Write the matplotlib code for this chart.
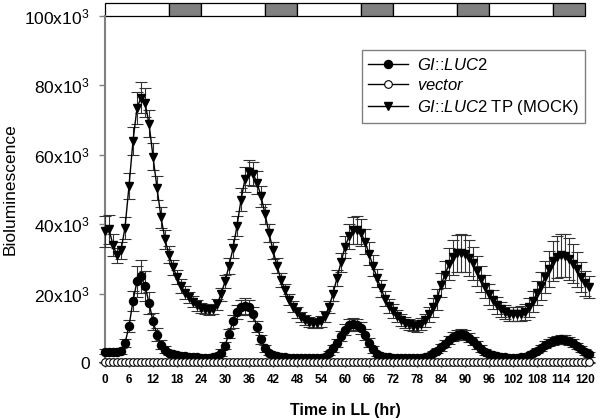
import matplotlib
matplotlib.use("Agg")
import matplotlib.pyplot as plt
import matplotlib.transforms as mtransforms
from matplotlib.lines import Line2D
from matplotlib.patches import Rectangle
import numpy as np

plt.rcParams['font.family'] = ['Liberation Sans', 'DejaVu Sans']
plt.rcParams['mathtext.fontset'] = 'custom'
plt.rcParams['mathtext.rm'] = 'Liberation Sans'
plt.rcParams['mathtext.it'] = 'Liberation Sans:italic'
plt.rcParams['mathtext.bf'] = 'Liberation Sans:bold'

# time in LL (hr), sampled hourly
hours = list(range(0, 122))

# bioluminescence, in units of 10^3
tp_mock = [38.0, 38.5, 34.0, 31.0, 32.5, 39.0, 51.0, 64.0, 73.5, 76.5,
           75.0, 69.0, 59.5, 50.5, 42.0, 35.6, 31.2, 27.6, 24.7, 22.2,
           20.3, 18.9, 17.6, 16.6, 15.8, 15.5, 15.2, 15.6, 16.9, 19.8,
           23.5, 28.0, 33.0, 39.5, 47.0, 53.0, 55.0, 54.5, 52.0, 48.0,
           43.0, 37.5, 32.5, 28.0, 24.0, 21.0, 18.3, 16.2, 14.6, 13.2,
           12.3, 11.8, 11.6, 11.6, 12.0, 13.5, 16.2, 20.0, 24.5, 29.0,
           33.5, 36.5, 38.2, 38.3, 37.5, 35.0, 31.5, 28.0, 24.5, 21.5,
           18.5, 16.5, 15.0, 13.5, 12.3, 11.6, 11.1, 10.7, 10.6, 11.2,
           12.3, 14.0, 16.0, 18.4, 22.5, 25.5, 28.5, 30.5, 31.6, 31.8,
           31.5, 30.3, 28.7, 26.5, 24.2, 22.0, 19.8, 18.2, 16.6, 15.5,
           14.8, 14.2, 14.0, 14.0, 14.2, 14.8, 16.0, 17.8, 20.2, 22.3,
           24.7, 27.0, 29.4, 30.6, 31.1, 30.9, 30.0, 28.6, 27.0, 24.8,
           23.0, 21.8]
tp_err = [4.5, 4.2, 3.2, 2.2, 2.5, 3.2, 3.8, 4.0, 4.5, 4.5,
          4.2, 4.0, 3.8, 3.5, 3.0, 2.7, 2.4, 2.2, 2.0, 1.9,
          1.8, 1.7, 1.6, 1.5, 1.5, 1.5, 1.5, 1.5, 1.6, 1.8,
          2.0, 2.3, 2.6, 3.0, 3.3, 3.6, 3.6, 3.5, 3.3, 3.0,
          2.8, 2.6, 2.4, 2.2, 2.0, 1.8, 1.7, 1.6, 1.5, 1.4,
          1.4, 1.4, 1.4, 1.4, 1.5, 1.6, 1.8, 2.1, 2.4, 2.8,
          3.2, 3.6, 3.9, 4.0, 3.9, 3.6, 3.3, 3.0, 2.7, 2.4,
          2.2, 2.0, 1.9, 1.8, 1.7, 1.6, 1.6, 1.6, 1.6, 1.7,
          1.9, 2.2, 2.6, 3.0, 3.5, 4.0, 4.5, 5.0, 5.3, 5.5,
          5.4, 5.1, 4.7, 4.2, 3.8, 3.4, 3.0, 2.7, 2.4, 2.2,
          2.0, 2.0, 2.0, 2.0, 2.1, 2.3, 2.6, 3.0, 3.5, 4.0,
          4.6, 5.2, 5.7, 6.0, 6.2, 6.2, 6.0, 5.6, 5.0, 4.3,
          3.6, 3.2]

gi_luc2 = [3.3, 3.3, 3.3, 3.3, 3.5, 5.7, 10.6, 17.9, 23.5, 25.0,
           22.2, 17.4, 12.0, 8.2, 5.2, 3.8, 2.9, 2.5, 2.2, 2.0,
           1.9, 1.8, 1.7, 1.6, 1.5, 1.5, 1.5, 1.6, 2.0, 3.0,
           5.0, 8.5, 12.0, 14.8, 16.0, 16.4, 16.0, 14.0, 10.5, 6.8,
           4.2, 2.8, 2.2, 1.9, 1.7, 1.6, 1.5, 1.4, 1.4, 1.3,
           1.3, 1.3, 1.3, 1.3, 1.4, 1.8, 2.8, 4.3, 5.8, 7.8,
           9.6, 10.9, 11.3, 11.0, 10.0, 8.2, 5.9, 3.9, 2.6, 2.1,
           1.8, 1.6, 1.5, 1.5, 1.4, 1.4, 1.3, 1.3, 1.3, 1.4,
           1.6, 2.1, 2.8, 3.6, 4.6, 5.6, 6.6, 7.5, 8.1, 8.3,
           8.0, 7.3, 6.3, 5.2, 4.1, 3.2, 2.6, 2.2, 1.9, 1.7,
           1.6, 1.5, 1.5, 1.5, 1.6, 1.8, 2.2, 2.8, 3.6, 4.4,
           5.2, 5.9, 6.4, 6.7, 6.8, 6.7, 6.3, 5.7, 4.9, 4.0,
           3.2, 2.5]
gi_err = [0.8, 0.8, 0.8, 0.8, 0.8, 1.2, 1.8, 2.8, 4.5, 4.8,
          4.2, 3.2, 2.5, 1.8, 1.3, 1.0, 0.7, 0.7, 0.7, 0.7,
          0.7, 0.7, 0.7, 0.7, 0.7, 0.7, 0.7, 0.7, 0.7, 0.9,
          1.1, 1.4, 1.8, 2.0, 2.2, 2.3, 2.2, 2.0, 1.6, 1.2,
          0.9, 0.6, 0.6, 0.6, 0.6, 0.6, 0.6, 0.6, 0.6, 0.6,
          0.6, 0.6, 0.6, 0.6, 0.6, 0.6, 0.6, 1.0, 1.2, 1.4,
          1.6, 1.8, 1.8, 1.8, 1.7, 1.5, 1.2, 0.9, 0.6, 0.6,
          0.6, 0.6, 0.6, 0.6, 0.6, 0.6, 0.6, 0.6, 0.6, 0.6,
          0.6, 0.6, 0.6, 0.8, 1.0, 1.1, 1.2, 1.3, 1.4, 1.4,
          1.4, 1.3, 1.2, 1.1, 1.0, 0.8, 0.6, 0.6, 0.6, 0.6,
          0.6, 0.6, 0.6, 0.6, 0.6, 0.6, 0.6, 0.6, 0.8, 0.9,
          1.0, 1.1, 1.2, 1.2, 1.3, 1.3, 1.2, 1.1, 1.0, 0.9,
          0.8, 0.7]

vector = [0.3, 0.3, 0.2, 0.3, 0.3, 0.2, 0.3, 0.3, 0.3, 0.2,
          0.3, 0.3, 0.2, 0.3, 0.3, 0.3, 0.2, 0.3, 0.3, 0.2,
          0.3, 0.3, 0.3, 0.2, 0.3, 0.3, 0.2, 0.3, 0.3, 0.3,
          0.2, 0.3, 0.3, 0.2, 0.3, 0.3, 0.3, 0.2, 0.3, 0.3,
          0.2, 0.3, 0.3, 0.3, 0.2, 0.3, 0.3, 0.2, 0.3, 0.3,
          0.3, 0.2, 0.3, 0.3, 0.2, 0.3, 0.3, 0.3, 0.2, 0.3,
          0.3, 0.2, 0.3, 0.3, 0.3, 0.2, 0.3, 0.3, 0.2, 0.3,
          0.3, 0.3, 0.2, 0.3, 0.3, 0.2, 0.3, 0.3, 0.3, 0.2,
          0.3, 0.3, 0.2, 0.3, 0.3, 0.3, 0.2, 0.3, 0.3, 0.2,
          0.3, 0.3, 0.3, 0.2, 0.3, 0.3, 0.2, 0.3, 0.3, 0.3,
          0.2, 0.3, 0.3, 0.2, 0.3, 0.3, 0.3, 0.2, 0.3, 0.3,
          0.2, 0.3, 0.3, 0.3, 0.2, 0.3, 0.3, 0.2, 0.3, 0.3,
          0.3, 0.2]
vector_err = [0.1] * len(vector)

# subjective day (white) / night (grey) bar on top
light_starts = [0, 16, 24, 40, 48, 64, 72, 88, 96, 112]
light_ends = [16, 24, 40, 48, 64, 72, 88, 96, 112, 120]
light_state = ['day', 'night', 'day', 'night', 'day', 'night', 'day', 'night', 'day', 'night']

xticks = list(range(0, 121, 6))
yticks = [0, 20, 40, 60, 80, 100]
ytick_labels = ['0', '20x10$^3$', '40x10$^3$', '60x10$^3$', '80x10$^3$', '100x10$^3$']

fig = plt.figure(figsize=(6, 4.2), dpi=100)
ax = fig.add_axes([0.175, 0.1357, 0.8, 0.8262])

eb_kw = dict(color='black', lw=1.0, ecolor='#333333', elinewidth=0.8,
             capsize=4, capthick=0.8, clip_on=False)
ax.errorbar(hours, tp_mock, yerr=tp_err, marker='v', ms=6, mfc='black',
            mec='black', zorder=3, **eb_kw)
ax.errorbar(hours, gi_luc2, yerr=gi_err, marker='o', ms=5.8, mfc='black',
            mec='black', zorder=4, **eb_kw)
ax.errorbar(hours, vector, yerr=vector_err, marker='o', ms=5.5, mfc='white',
            mec='black', mew=0.8, zorder=5, **eb_kw)

ax.set_xlim(0, 120)
ax.set_ylim(0, 100)
ax.set_xticks(xticks)
ax.set_xticklabels([str(t) for t in xticks], fontsize=8.5, fontweight='bold')
ax.set_yticks(yticks)
ax.set_yticklabels(ytick_labels, fontsize=12.5)

for side in ['top', 'right']:
    ax.spines[side].set_visible(False)
for side in ['left', 'bottom']:
    ax.spines[side].set_color('#808080')
    ax.spines[side].set_linewidth(1.5)
ax.tick_params(axis='y', direction='out', length=4, width=1, color='#808080', pad=7)
ax.tick_params(axis='x', direction='out', length=3, width=1, color='#555555', pad=5)

ax.set_xlabel('Time in LL (hr)', fontsize=11.5, fontweight='bold', labelpad=12)
ax.set_ylabel('Bioluminescence', fontsize=12.5)
ax.yaxis.set_label_coords(-0.182, 0.5)

# light/dark bar
trans = mtransforms.blended_transform_factory(ax.transData, ax.transAxes)
for s, e, st in zip(light_starts, light_ends, light_state):
    fc = 'white' if st == 'day' else '#808080'
    ax.add_patch(Rectangle((s, 1.0), e - s, 0.038, transform=trans,
                           facecolor=fc, edgecolor='black', lw=0.9, clip_on=False))

handles = [
    Line2D([], [], color='black', lw=1, marker='o', ms=5.8, mfc='black', mec='black'),
    Line2D([], [], color='black', lw=1, marker='o', ms=5.5, mfc='white', mec='black', mew=0.8),
    Line2D([], [], color='black', lw=1, marker='v', ms=6, mfc='black', mec='black'),
]
labels = [r'$\mathit{GI}$::$\mathit{LUC2}$', r'$\mathit{vector}$',
          r'$\mathit{GI}$::$\mathit{LUC2}$ TP (MOCK)']
leg = ax.legend(handles, labels, loc='upper right', bbox_to_anchor=(1.0, 0.902),
                fontsize=12, frameon=True, fancybox=False, edgecolor='#808080',
                framealpha=1, handlelength=2.4, handletextpad=0.5,
                labelspacing=0.3, borderpad=0.4, borderaxespad=0)
leg.get_frame().set_linewidth(1.0)

fig.savefig('out.png', dpi=100)
